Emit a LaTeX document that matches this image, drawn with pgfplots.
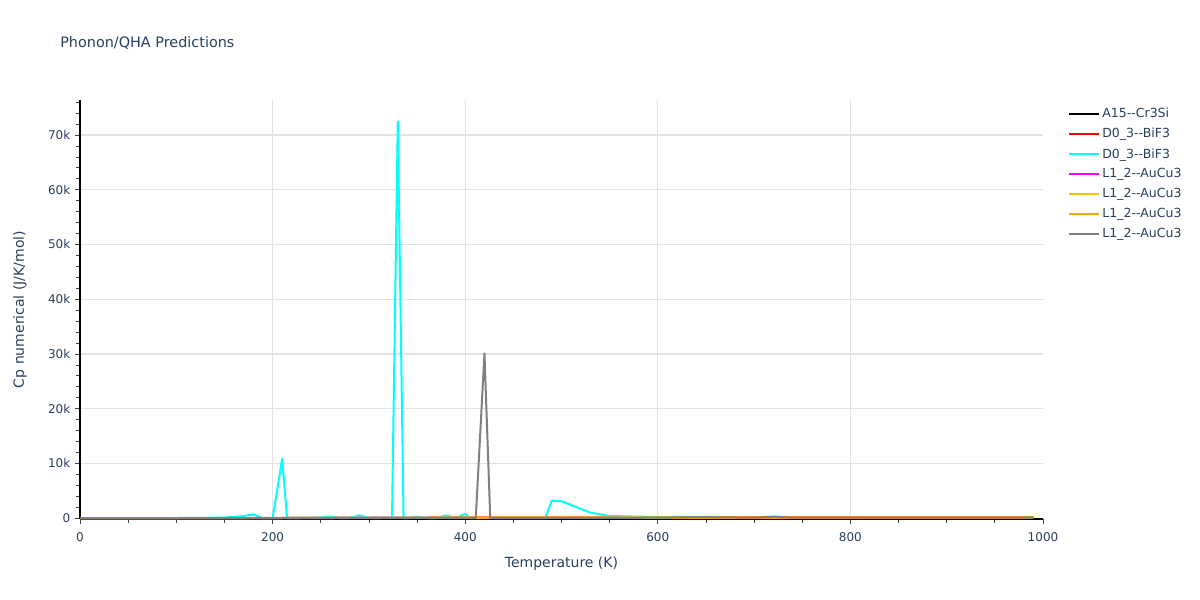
\documentclass[border=0pt]{standalone}
\usepackage{pgfplots}
\pgfplotsset{compat=1.18}
\usepackage{fontspec}
\setmainfont{DejaVu Sans}

\definecolor{txt}{HTML}{2A3F5F}
\definecolor{gridc}{HTML}{E2E2E2}
\definecolor{cyanc}{HTML}{00FFFF}
\definecolor{magc}{HTML}{FF00FF}
\definecolor{redc}{HTML}{FF0000}
\definecolor{goldc}{HTML}{FFC000}
\definecolor{orangec}{HTML}{FFA500}
\definecolor{grayc}{HTML}{808080}

\begin{document}
\begin{tikzpicture}
% page = 1200 x 600 px, 1 px = 0.75pt
\useasboundingbox (0pt,0pt) rectangle (900pt,450pt);
\node[anchor=base west, inner sep=0pt, text=txt, font=\fontsize{10.8}{13}\selectfont] at (45pt,414pt) {Phonon/QHA Predictions};
\begin{axis}[
  at={(60pt,60.75pt)}, anchor=south west,
  scale only axis,
  width=722.25pt, height=314.25pt,
  xmin=0, xmax=1000,
  ymin=-150, ymax=76400,
  axis lines=left,
  axis line style={-, black, line width=0.8pt},
  xtick={0,200,...,1000},
  xticklabels={0,200,400,600,800,1000},
  minor xtick={50,100,150,250,300,350,450,500,550,650,700,750,850,900,950},
  ytick={0,10000,...,70000},
  yticklabels={0,10k,20k,30k,40k,50k,60k,70k},
  minor ytick={2000,4000,...,76000},
  tick align=outside,
  major tick length=3.75pt, minor tick length=3pt,
  every tick/.style={black!75, line width=0.6pt},
  ymajorgrids,
  extra x ticks={200,400,600,800},
  extra x tick labels={},
  extra x tick style={grid=major, major tick length=0pt},
  major grid style={gridc, line width=0.8pt},
  scaled y ticks=false,
  tick label style={text=txt, font=\fontsize{9}{11}\selectfont},
  /pgf/number format/assume math mode=true,
  xticklabel style={yshift=-3pt},
  xlabel={Temperature (K)},
  ylabel={Cp numerical (J/K/mol)},
  every axis x label/.style={at={(axis description cs:0.5,-0.107)}, anchor=center, text=txt, font=\fontsize{10.5}{12}\selectfont},
  every axis y label/.style={at={(axis description cs:-0.0623,0.5)}, rotate=90, anchor=center, text=txt, font=\fontsize{10.5}{12}\selectfont},
  legend style={at={(axis description cs:1.026,0.987)}, anchor=north west, draw=none, fill=none,
    font=\fontsize{9.4}{11}\selectfont, text=txt, row sep=2.4pt, inner sep=0pt},
  legend cell align=left,
  legend image code/.code={\draw[#1] (0pt,0pt) -- (22pt,0pt);},
  every axis plot/.append style={line width=1.5pt, line join=round},
  clip=true,
]
\addplot[black] coordinates {(0,0) (50,2) (100,10) (200,30) (300,50) (400,60) (500,70) (600,75) (700,80) (800,82) (900,84) (990,85)};
\addlegendentry{A15-{}-Cr3Si}
\addplot[redc] coordinates {(0,0) (100,10) (200,30) (300,60) (400,90) (500,110) (600,120) (700,125) (800,130) (900,132) (990,134)};
\addlegendentry{D0\_3-{}-BiF3}
\addplot[cyanc] coordinates {(0,0) (50,10) (100,30) (150,100) (170,400) (180,700) (190,0) (200,0) (210,10900) (215,0) (220,0) (250,100) (260,300) (270,0) (280,0) (290,500) (300,50) (310,0) (320,100) (324,0) (330,72500) (336,0) (340,0) (350,300) (360,0) (370,0) (380,500) (390,0) (400,800) (405,0) (420,0) (440,0) (460,0) (483,0) (490,3200) (500,3100) (530,1000) (550,400) (600,200) (640,100) (680,50)};
\addlegendentry{D0\_3-{}-BiF3}
\addplot[magc] coordinates {(0,0) (100,5) (200,20) (300,40) (400,55) (500,65) (600,70) (700,75) (800,78) (900,80) (990,80)};
\addlegendentry{L1\_2-{}-AuCu3}
\addplot[goldc] coordinates {(0,0) (100,10) (200,30) (300,60) (400,80) (500,95) (600,100) (700,105) (800,108) (900,110) (990,110)};
\addlegendentry{L1\_2-{}-AuCu3}
\addplot[orangec] coordinates {(0,0) (100,10) (200,40) (300,70) (400,100) (440,150) (500,110) (600,120) (700,125) (770,150) (800,128) (880,150) (940,160) (990,130)};
\addlegendentry{L1\_2-{}-AuCu3}
\addplot[grayc] coordinates {(0,0) (100,5) (200,20) (300,40) (400,50) (411,50) (420,30100) (426,50) (440,60) (500,70) (600,80) (640,200) (700,90) (720,300) (740,100) (800,105) (900,110) (990,110)};
\addlegendentry{L1\_2-{}-AuCu3}
\end{axis}
\end{tikzpicture}
\end{document}
